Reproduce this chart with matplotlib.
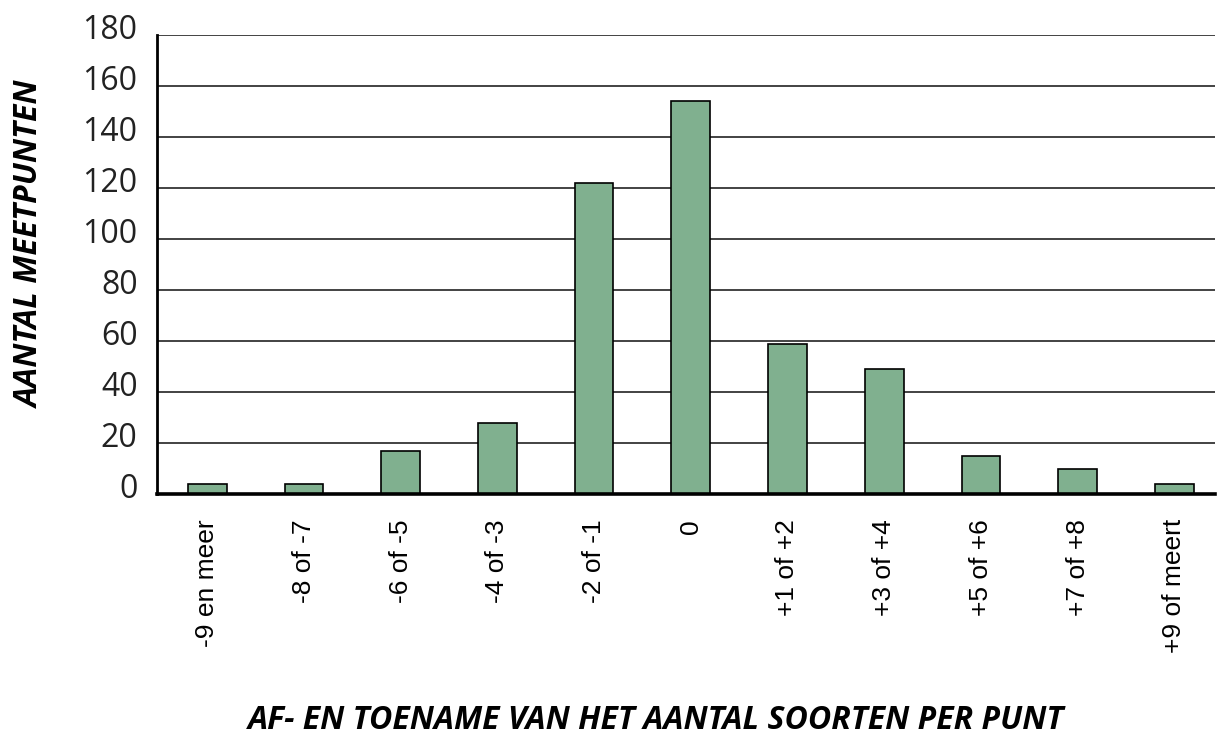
import matplotlib.pyplot as plt
import matplotlib.transforms as mtransforms

categories = ["-9 en meer", "-8 of -7", "-6 of -5", "-4 of -3", "-2 of -1", "0",
              "+1 of +2", "+3 of +4", "+5 of +6", "+7 of +8", "+9 of meert"]
counts = [4, 4, 17, 28, 122, 154, 59, 49, 15, 10, 4]
y_ticks = [0, 20, 40, 60, 80, 100, 120, 140, 160, 180]

fig = plt.figure(figsize=(12.21, 7.37), dpi=100)
ax = fig.add_axes([0.1286, 0.3297, 0.8664, 0.6228])

x = list(range(len(categories)))
ax.bar(x, counts, width=0.4, color="#80b08f", edgecolor="black", linewidth=1.2, zorder=3)

ax.set_xlim(-0.52, 10.42)
ax.set_ylim(0, 180)
ax.set_yticks(y_ticks)
ax.yaxis.grid(True, color="#222222", linewidth=1.2, zorder=0)
ax.set_axisbelow(True)

for s in ["top", "right"]:
    ax.spines[s].set_visible(False)
ax.spines["left"].set_linewidth(2.0)
ax.spines["bottom"].set_linewidth(2.6)
ax.spines["bottom"].set_zorder(4)

ax.set_xticks(x)
ax.set_xticklabels(categories, rotation=90, fontsize=19, family="Liberation Sans",
                   va="top", ha="center")
ax.tick_params(axis="both", length=0)
ax.tick_params(axis="x", pad=18)
ax.tick_params(axis="y", pad=14)
for lbl in ax.get_yticklabels():
    lbl.set_fontsize(23)
    lbl.set_family("Open Sans")
    lbl.set_color("#222222")
    lbl.set_transform(lbl.get_transform() +
                      mtransforms.ScaledTranslation(0, 9 / 100, fig.dpi_scale_trans))

fig.text(0.025, 0.669, "AANTAL MEETPUNTEN", rotation=90, ha="center", va="center",
         fontsize=23, fontweight="bold", fontstyle="italic", family="Open Sans")
fig.text(0.537, 0.022, "AF- EN TOENAME VAN HET AANTAL SOORTEN PER PUNT",
         ha="center", va="center", fontsize=23, fontweight="bold",
         fontstyle="italic", family="Open Sans")

fig.savefig("out.png", dpi=100)
